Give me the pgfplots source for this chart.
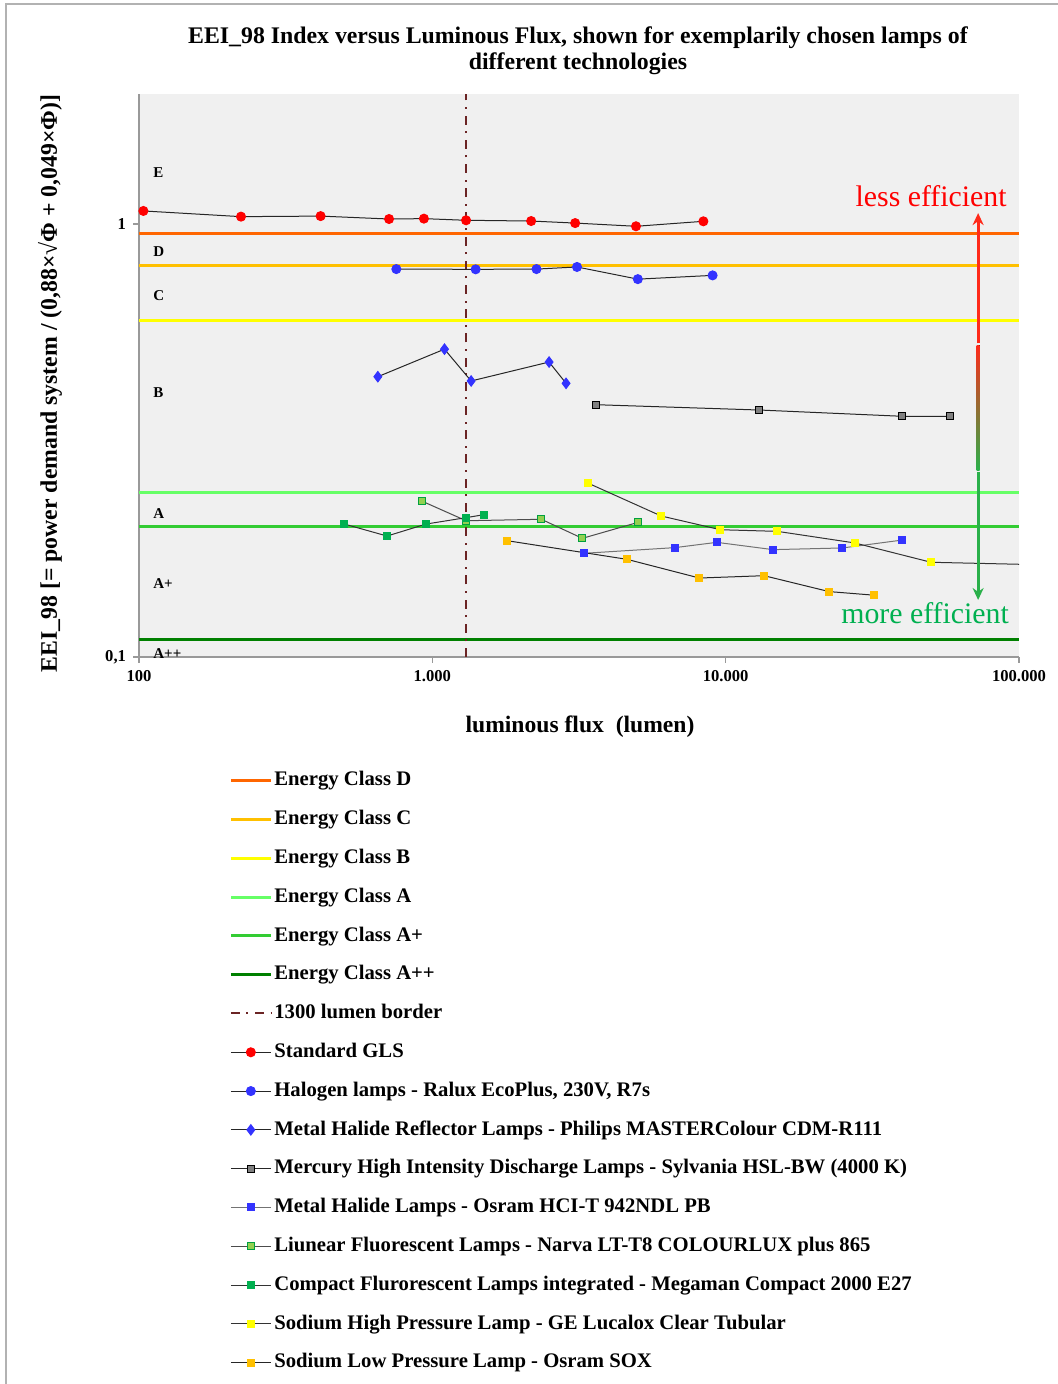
\documentclass[border=0pt]{standalone}
\usepackage{fontspec}
\setmainfont{Liberation Serif}
\usepackage{pgfplots}
\pgfplotsset{compat=1.18}
\usetikzlibrary{arrows.meta}
\definecolor{clD}{HTML}{FF6600}
\definecolor{clC}{HTML}{FFC000}
\definecolor{clB}{HTML}{FFFF00}
\definecolor{clA}{HTML}{66FF66}
\definecolor{clAp}{HTML}{33CC33}
\definecolor{clApp}{HTML}{008000}
\definecolor{border}{HTML}{6B2424}
\definecolor{bl}{HTML}{3333FF}
\definecolor{lfl}{HTML}{92D050}
\definecolor{lfld}{HTML}{00A040}
\definecolor{cfl}{HTML}{00B050}
\definecolor{sox}{HTML}{FFC000}
\definecolor{arrred}{HTML}{FF2A1A}
\definecolor{arrgreen}{HTML}{2AB04A}
\definecolor{txtgreen}{HTML}{00B050}
\begin{document}
\begin{tikzpicture}
\path[use as bounding box] (0,0) rectangle (529pt,692pt);
\draw[color=gray!60, line width=0.75pt] (3pt,0pt) -- (3pt,690pt) -- (529pt,690pt);
\node[align=center, font=\fontsize{11.9}{13}\selectfont\bfseries] at (289pt,666.5pt)
 {EEI\_98 Index versus Luminous Flux, shown for exemplarily chosen lamps of\\different technologies};
\node[rotate=90, font=\fontsize{11.87}{13}\selectfont\bfseries] at (25pt,500.25pt)
 {EEI\_98 [= power demand system / (0,88×√Φ + 0,049×Φ)]};
\node[font=\fontsize{11.8}{13}\selectfont\bfseries] at (290pt,328.5pt) {luminous flux\ \ (lumen)};
\begin{axis}[
  at={(69.5pt,363.5pt)}, anchor=south west,
  scale only axis, width=440pt, height=281.65pt,
  xmode=log, ymode=log,
  xmin=100, xmax=100000, ymin=0.1, ymax=2,
  xtick={100,1000,10000,100000},
  xticklabels={100,1.000,10.000,100.000},
  ytick={0.1,1}, yticklabels={{0,1},1},
  xminorticks=false, yminorticks=false,
  axis x line*=bottom, axis y line*=left,
  axis line style={draw=gray!80, line width=0.75pt},
  tick style={draw=gray!80, line width=0.75pt},
  tick align=outside, major tick length=3pt,
  /pgf/number format/assume math mode=true,
  ticklabel style={font=\fontsize{8.3}{10}\selectfont\bfseries},
  axis background/.style={fill=gray!12},
  clip mode=global,
  legend style={at={(0.1022,-0.2025)}, anchor=north west, draw=none, fill=none,
    font=\fontsize{10.35}{12}\selectfont\bfseries, row sep=10.2pt, column sep=1pt,
    inner sep=0pt, nodes={inner sep=0pt, text height=7.2pt, text depth=2pt}},
  legend cell align=left,
  legend image code/.code={\draw[mark repeat=2,mark phase=2,#1] plot coordinates {(0pt,0pt) (10pt,0pt) (20pt,0pt)};},
]
\addplot[clD, line width=1.5pt] coordinates {(100,0.95) (100000,0.95)};
\addlegendentry{Energy Class D}
\addplot[clC, line width=1.5pt] coordinates {(100,0.80) (100000,0.80)};
\addlegendentry{Energy Class C}
\addplot[clB, line width=1.5pt] coordinates {(100,0.60) (100000,0.60)};
\addlegendentry{Energy Class B}
\addplot[clA, line width=1.5pt] coordinates {(100,0.24) (100000,0.24)};
\addlegendentry{Energy Class A}
\addplot[clAp, line width=1.5pt] coordinates {(100,0.20) (100000,0.20)};
\addlegendentry{Energy Class A+}
\addplot[clApp, line width=1.5pt] coordinates {(100,0.11) (100000,0.11)};
\addlegendentry{Energy Class A++}
\addplot[border, line width=1pt, dash pattern=on 4.5pt off 3.3pt on 1pt off 3.3pt] coordinates {(1300,0.1) (1300,2)};
\addlegendentry{1300 lumen border}
\addplot[black!85, line width=0.5pt, mark=*, mark size=2.25pt, mark options={fill=red, draw=red}] coordinates {
 (103.5,1.072) (222.7,1.040) (416,1.043) (712,1.027) (936,1.029) (1303,1.020) (2172,1.016) (3068,1.005) (4946,0.988) (8395,1.0145)};
\addlegendentry{Standard GLS}
\addplot[black!85, line width=0.5pt, mark=*, mark size=2.25pt, mark options={fill=bl, draw=bl}] coordinates {
 (754,0.787) (1405,0.786) (2265,0.787) (3113,0.796) (5018,0.746) (9024,0.761)};
\addlegendentry{Halogen lamps - Ralux EcoPlus, 230V, R7s}
\addplot[black!85, line width=0.5pt, mark=diamond*, mark size=2.6pt, mark options={fill=bl, draw=bl}] coordinates {
 (652,0.444) (1100,0.514) (1356,0.434) (2500,0.480) (2857,0.4286)};
\addlegendentry{Metal Halide Reflector Lamps - Philips MASTERColour CDM-R111}
\addplot[black!85, line width=0.5pt, mark=square*, mark size=1.75pt, mark options={fill=gray, draw=black, line width=0.5pt}] coordinates {
 (3612,0.3826) (13020,0.3719) (40010,0.3597) (58190,0.3594)};
\addlegendentry{Mercury High Intensity Discharge Lamps - Sylvania HSL-BW (4000 K)}
\addplot[black!55, line width=0.5pt, mark=square*, mark size=1.75pt, mark options={fill=bl, draw=bl}] coordinates {
 (3298,0.1736) (6707,0.1789) (9326,0.1840) (14510,0.1770) (25000,0.1786) (40040,0.1863)};
\addlegendentry{Metal Halide Lamps - Osram HCI-T 942NDL PB}
\addplot[black!70, line width=0.5pt, mark=square*, mark size=1.75pt, mark options={fill=lfl, draw=lfld, line width=0.5pt}] coordinates {
 (924,0.2289) (1303,0.2064) (2353,0.208) (3246,0.188) (5039,0.2047)};
\addlegendentry{Liunear Fluorescent Lamps - Narva LT-T8 COLOURLUX plus 865}
\addplot[black!80, line width=0.5pt, mark=square*, mark size=1.75pt, mark options={fill=cfl, draw=cfl}] coordinates {
 (501,0.2028) (701,0.1903) (952,0.2028) (1303,0.2098) (1501,0.2132)};
\addlegendentry{Compact Flurorescent Lamps integrated - Megaman Compact 2000 E27}
\addplot[black!80, line width=0.5pt, mark=square*, mark size=1.75pt, mark options={fill=clB, draw=clB}] coordinates {
 (3403,0.2519) (6025,0.2117) (9594,0.1968) (15010,0.1951) (27550,0.1834) (50150,0.1655) (130000,0.1631)};
\addlegendentry{Sodium High Pressure Lamp - GE Lucalox Clear Tubular}
\addplot[black!85, line width=0.5pt, mark=square*, mark size=1.75pt, mark options={fill=sox, draw=sox}] coordinates {
 (1802,0.1856) (4611,0.1681) (8134,0.1522) (13520,0.1541) (22520,0.1416) (32140,0.1389)};
\addlegendentry{Sodium Low Pressure Lamp - Osram SOX}
% class labels
\begin{scope}[every node/.style={font=\fontsize{7.5}{9}\selectfont\bfseries, anchor=west, inner sep=0pt}]
\node at (axis cs:111.6,1.318) {E};
\node at (axis cs:111.6,0.862) {D};
\node at (axis cs:111.6,0.682) {C};
\node at (axis cs:111.6,0.409) {B};
\node at (axis cs:111.6,0.215) {A};
\node at (axis cs:111.6,0.148) {A+};
\node at (axis cs:111.6,0.1016) {A++};
\end{scope}
% efficiency arrow
\fill[top color=arrred, bottom color=arrgreen] ([xshift=-0.75pt]axis cs:72550,0.5254) rectangle ([xshift=0.75pt]axis cs:72550,0.270);
\draw[arrred, line width=1.5pt, -{Stealth[length=6pt,width=5.5pt]}] (axis cs:72550,0.53) -- (axis cs:72550,1.06);
\draw[arrgreen, line width=1.5pt, -{Stealth[length=6pt,width=5.5pt]}] (axis cs:72550,0.268) -- (axis cs:72550,0.1354);
\node[text=red, font=\fontsize{14.9}{16}\selectfont] at (axis cs:50150,1.16) {less efficient};
\node[text=txtgreen, font=\fontsize{14.9}{16}\selectfont] at (axis cs:47840,0.1264) {more efficient};
\end{axis}
\end{tikzpicture}
\end{document}
